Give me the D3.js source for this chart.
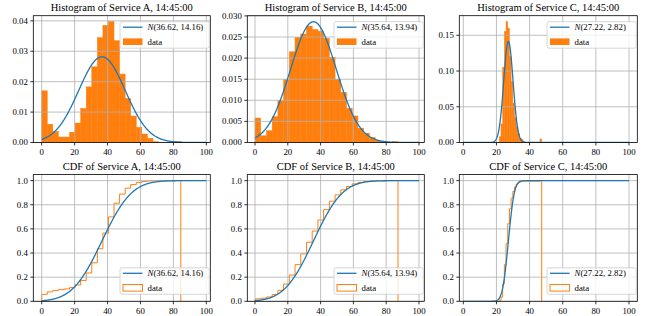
<!DOCTYPE html>
<html><head><meta charset="utf-8">
<script src="https://cdn.jsdelivr.net/npm/d3@7"></script>
<style>
body{margin:0;background:#fff}
svg text{font-family:"Liberation Serif","DejaVu Serif",serif;fill:#000}
</style>
</head><body>
<svg id="c" width="646" height="316"></svg>
<script>
// ---------------- DATA ----------------
const services = ["A", "B", "C"];
const timeLabel = "14:45:00";
const fitMu = [36.62, 35.64, 27.22];
const fitSigma = [14.16, 13.94, 2.82];
// histogram bins (25 equal bins between min and max of each sample)
const binStart = [0, 0, 21.7];
const binEnd = [84.5, 87.2, 47.3];
const densA = [0.0170, 0.0060, 0.0037, 0.0018, 0.0018, 0.0034, 0.0064, 0.0112, 0.0183, 0.0249,
               0.0345, 0.0385, 0.0398, 0.0335, 0.0225, 0.0145, 0.0087, 0.0050, 0.0028, 0.0014,
               0.0003, 0.0, 0.0, 0.0, 0.0003];
const densB = [0.0058, 0.0016, 0.0028, 0.0061, 0.0099, 0.0149, 0.0215, 0.0249, 0.0257, 0.0276,
               0.0268, 0.0264, 0.0247, 0.0202, 0.0150, 0.0119, 0.0081, 0.0063, 0.0034, 0.0022,
               0.0012, 0.0005, 0.0002, 0.0, 0.0002];
const densC = [0.008, 0.026, 0.105, 0.155, 0.169, 0.160, 0.120, 0.085, 0.055, 0.035,
               0.022, 0.012, 0.006, 0.004, 0.002, 0, 0, 0, 0, 0,
               0, 0, 0, 0, 0.005];
const xTicks = [0, 20, 40, 60, 80, 100];
const histYTicksA = [0, 0.01, 0.02, 0.03, 0.04];
const histYTicksB = [0, 0.005, 0.010, 0.015, 0.020, 0.025, 0.030];
const histYTicksC = [0, 0.05, 0.10, 0.15];
const cdfYTicks = [0, 0.2, 0.4, 0.6, 0.8, 1.0];

// ---------------- LAYOUT ----------------
const dens = [densA, densB, densC];
const histYTicks = [histYTicksA, histYTicksB, histYTicksC];
const histFmt = [".2f", ".3f", ".2f"];
const histYMax = [0.0417, 0.03005, 0.1774];
const colBox = [[33.3, 210.3], [247.3, 424.3], [459.3, 637.3]];
const colX0 = [41.7, 255, 463.3];
const colX100 = [206.3, 419, 629];
const rowBox = [[15.7, 142.5], [174.6, 301.3]];
const blue = "#1f77b4", orange = "#ff7f0e", gridC = "#b0b0b0";
const tickFont = 8.8, titleFont = 10.5, legFont = 8.8;

const svg = d3.select("#c");

function erf(x) {
  const s = Math.sign(x); x = Math.abs(x);
  const t = 1 / (1 + 0.3275911 * x);
  const y = 1 - (((((1.061405429 * t - 1.453152027) * t) + 1.421413741) * t - 0.284496736) * t + 0.254829592) * t * Math.exp(-x * x);
  return s * y;
}
const normPdf = (x, m, s) => Math.exp(-0.5 * ((x - m) / s) ** 2) / (s * Math.sqrt(2 * Math.PI));
const normCdf = (x, m, s) => 0.5 * (1 + erf((x - m) / (s * Math.SQRT2)));

function panel(row, col) {
  const [L, R] = colBox[col], [T, B] = rowBox[row];
  const x = d3.scaleLinear().domain([0, 100]).range([colX0[col], colX100[col]]);
  const ymax = row === 0 ? histYMax[col] : 1.05;
  const y = d3.scaleLinear().domain([0, ymax]).range([B, T]);
  const g = svg.append("g");
  const cid = `clip${row}${col}`;
  g.append("clipPath").attr("id", cid).append("rect").attr("x", L).attr("y", T).attr("width", R - L).attr("height", B - T);
  const plot = g.append("g").attr("clip-path", `url(#${cid})`);

  const d = dens[col];
  const w = (binEnd[col] - binStart[col]) / d.length;
  const edges = d3.range(d.length + 1).map(i => binStart[col] + i * w);
  const mu = fitMu[col], sg = fitSigma[col];
  const xs = d3.range(0, 100.001, 0.25);

  if (row === 0) {
    plot.selectAll("rect.bar").data(d.map((v, i) => ({v, i})).filter(o => o.v > 0)).join("rect").attr("class", "bar")
      .attr("x", o => x(edges[o.i])).attr("width", o => x(edges[o.i + 1]) - x(edges[o.i]))
      .attr("y", o => y(o.v)).attr("height", o => y(0) - y(o.v)).attr("fill", orange)
      .attr("stroke", orange).attr("stroke-width", 0.45);
  } else {
    const total = d3.sum(d) * w;
    let c = 0;
    const pts = [[edges[0], 0]];
    d.forEach((v, i) => { c += v * w / total; pts.push([edges[i], c]); pts.push([edges[i + 1], c]); });
    pts.push([edges[d.length], 0]);
    plot.append("path").attr("d", d3.line().x(p => x(p[0])).y(p => y(p[1]))(pts))
      .attr("fill", "none").attr("stroke", orange).attr("stroke-width", 1);
  }
  // grid
  const yt = row === 0 ? histYTicks[col] : cdfYTicks;
  plot.selectAll("line.gx").data(xTicks).join("line").attr("x1", v => x(v)).attr("x2", v => x(v))
    .attr("y1", T).attr("y2", B).attr("stroke", gridC).attr("stroke-width", 0.8);
  plot.selectAll("line.gy").data(yt).join("line").attr("y1", v => y(v)).attr("y2", v => y(v))
    .attr("x1", L).attr("x2", R).attr("stroke", gridC).attr("stroke-width", 0.8);
  // normal fit
  const f = row === 0 ? (v => normPdf(v, mu, sg)) : (v => normCdf(v, mu, sg));
  plot.append("path").attr("d", d3.line().x(v => x(v)).y(v => y(f(v)))(xs))
    .attr("fill", "none").attr("stroke", blue).attr("stroke-width", 1.3);

  // spines
  g.append("rect").attr("x", L).attr("y", T).attr("width", R - L).attr("height", B - T)
    .attr("fill", "none").attr("stroke", "#000").attr("stroke-width", 0.8);
  // ticks
  g.selectAll("line.tx").data(xTicks).join("line").attr("x1", v => x(v)).attr("x2", v => x(v))
    .attr("y1", B).attr("y2", B + 3).attr("stroke", "#000").attr("stroke-width", 0.8);
  g.selectAll("text.tx").data(xTicks).join("text").attr("x", v => x(v)).attr("y", B + 6)
    .attr("dy", "0.75em").attr("text-anchor", "middle").attr("font-size", tickFont).text(v => v);
  const fmt = d3.format(row === 0 ? histFmt[col] : ".1f");
  g.selectAll("line.ty").data(yt).join("line").attr("y1", v => y(v)).attr("y2", v => y(v))
    .attr("x1", L - 3).attr("x2", L).attr("stroke", "#000").attr("stroke-width", 0.8);
  g.selectAll("text.ty").data(yt).join("text").attr("x", L - 5.5).attr("y", v => y(v))
    .attr("dy", "0.33em").attr("text-anchor", "end").attr("font-size", tickFont).text(v => fmt(v));
  // title
  g.append("text").attr("x", (L + R) / 2).attr("y", T - 4.5).attr("text-anchor", "middle")
    .attr("font-size", titleFont)
    .text(`${row === 0 ? "Histogram" : "CDF"} of Service ${services[col]}, ${timeLabel}`);

  // legend
  const lw = 89.3, lh = 26.5;
  const lx = R - 1 - lw;
  const ly = row === 0 ? T + 6 : B - 7 - lh;
  const lg = g.append("g");
  lg.append("rect").attr("x", lx).attr("y", ly).attr("width", lw).attr("height", lh).attr("rx", 2)
    .attr("fill", "#fff").attr("fill-opacity", 0.8).attr("stroke", "#cccccc").attr("stroke-width", 0.8);
  const r1 = ly + 5.5, r2 = ly + 20;
  lg.append("line").attr("x1", lx + 3).attr("x2", lx + 22.5).attr("y1", r1).attr("y2", r1)
    .attr("stroke", blue).attr("stroke-width", 1.3);
  const t1 = lg.append("text").attr("x", lx + 27.5).attr("y", r1).attr("dy", "0.33em").attr("font-size", legFont);
  t1.append("tspan").attr("font-style", "italic").text("N");
  t1.append("tspan").text(`(${fitMu[col].toFixed(2)}, ${fitSigma[col].toFixed(2)})`);
  lg.append("rect").attr("x", lx + 3).attr("y", r2 - 3.3).attr("width", 19.5).attr("height", 6.6)
    .attr("fill", row === 0 ? orange : "none").attr("stroke", row === 0 ? "none" : orange).attr("stroke-width", 1);
  lg.append("text").attr("x", lx + 27.5).attr("y", r2).attr("dy", "0.33em").attr("font-size", legFont).text("data");
}

for (let r = 0; r < 2; r++) for (let c = 0; c < 3; c++) panel(r, c);
</script>
</body></html>
